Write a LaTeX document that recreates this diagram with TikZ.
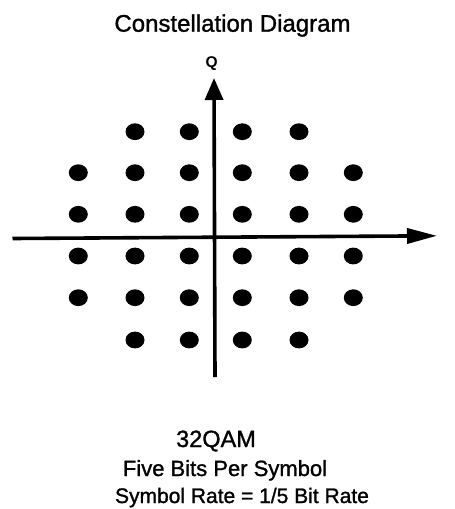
\documentclass[tikz,border=0pt]{standalone}
\usepackage{fontspec}
\setmainfont{Liberation Sans}
\newfontfamily\scanfont[FakeBold=1.2]{Liberation Sans}
\usetikzlibrary{arrows.meta}
\begin{document}
\begin{tikzpicture}[x=1pt,y=-1pt,
  dot/.style={fill=black,draw=none},
  axis/.style={line width=3.6pt,line cap=butt},
  lbl/.style={inner sep=0pt,anchor=base}]
\useasboundingbox (0,0) rectangle (455,509);
\node[lbl,font=\scanfont\fontsize{24}{28}\selectfont] (title) at (232.5,31.7) {Constellation Diagram};
\node[inner sep=0pt,anchor=base,font=\fontsize{15.5}{18}\selectfont\bfseries] (q) at (211.7,67.5) {Q};
% axes
\coordinate (vb) at (215,377);
\coordinate (vt) at (214,78);
\coordinate (hl) at (12.5,238.5);
\coordinate (hr) at (437,235.8);
\draw[axis,-{Triangle[length=22pt,width=18pt]}] (vb) -- (vt);
\draw[axis,-{Triangle[length=30pt,width=15pt]}] (hl) -- (hr);
% dots
\foreach \c/\x in {1/78.3,2/135,3/189.3,4/242.3,5/299,6/353.3}{
  \foreach \r/\y in {2/172.7,3/214.3,4/256,5/297.7}{
    \fill[dot] (\x,\y) ellipse [x radius=9.5pt,y radius=8.4pt];
  }
}
\foreach \x in {135,189.3,242.3,299}{
  \foreach \y in {131.7,340}{
    \fill[dot] (\x,\y) ellipse [x radius=9.5pt,y radius=8.4pt];
  }
}
\node[lbl,font=\scanfont\fontsize{23.5}{26}\selectfont] (l1) at (216,447) {32QAM};
\node[lbl,font=\scanfont\fontsize{22}{26}\selectfont] (l2) at (225,476) {Five Bits Per Symbol};
\node[lbl,font=\scanfont\fontsize{21}{26}\selectfont] (l3) at (242,503) {Symbol Rate = 1/5 Bit Rate};
\end{tikzpicture}
\end{document}
